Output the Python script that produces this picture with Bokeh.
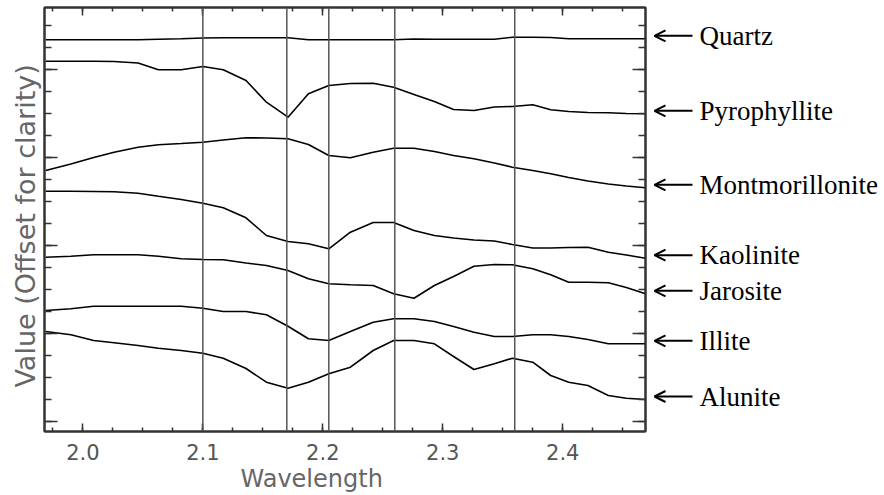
from bokeh.plotting import figure
from bokeh.layouts import row
from bokeh.models import (Range1d, FixedTicker, SingleIntervalTicker, LinearAxis, Span,
                          Label, Arrow, OpenHead, PrintfTickFormatter, ColumnDataSource, Title,
                          CustomJSTickFormatter)
from bokeh.embed import file_html
from bokeh.resources import INLINE

# ---------------- data ----------------
wavelength = [1.969, 1.990, 2.009, 2.026, 2.046, 2.063, 2.082, 2.100, 2.117, 2.136,
              2.153, 2.171, 2.188, 2.205, 2.223, 2.242, 2.259, 2.276, 2.293, 2.309,
              2.326, 2.343, 2.358, 2.375, 2.390, 2.405, 2.421, 2.438, 2.453, 2.469]

quartz = [391.7, 391.7, 391.7, 391.7, 391.7, 392.2, 392.7, 393.5, 393.7, 393.7,
          393.7, 393.7, 391.8, 391.7, 391.7, 391.7, 391.7, 392.5, 392.3, 392.3,
          392.3, 392.3, 394.3, 394.3, 394.0, 392.7, 392.7, 392.7, 392.7, 392.7]
pyrophyllite = [370.3, 370.3, 370.3, 370.0, 368.5, 361.7, 361.7, 365.0, 361.7, 351.0,
                329.3, 314.3, 337.7, 346.0, 348.0, 348.3, 344.3, 337.0, 330.0, 322.0,
                321.0, 324.5, 325.0, 326.7, 321.7, 320.0, 319.0, 318.7, 318.0, 317.7]
montmorillonite = [261.0, 267.5, 274.0, 279.3, 284.3, 286.7, 288.0, 289.3, 291.5, 293.7,
                   293.5, 292.7, 287.0, 276.0, 273.7, 279.3, 283.3, 283.3, 280.0, 276.0,
                   272.7, 268.5, 264.3, 261.0, 257.7, 254.0, 250.5, 247.5, 245.5, 243.7]
kaolinite = [240.3, 240.3, 240.0, 239.7, 238.3, 235.3, 232.0, 228.3, 223.7, 213.7,
             196.0, 190.0, 187.7, 182.7, 199.3, 209.0, 209.0, 201.0, 196.0, 193.5,
             191.5, 190.5, 187.0, 183.5, 183.5, 184.0, 184.3, 179.3, 176.5, 173.3]
jarosite = [174.3, 175.3, 176.7, 176.7, 176.7, 175.3, 172.7, 172.0, 171.7, 168.5,
            166.0, 161.0, 152.7, 147.7, 146.7, 146.0, 137.7, 133.3, 146.0, 155.0,
            165.3, 167.0, 166.7, 162.7, 156.7, 149.3, 149.3, 148.7, 144.0, 137.7]
illite = [121.0, 122.7, 125.3, 125.3, 125.3, 125.3, 125.3, 123.3, 120.0, 120.0,
          116.7, 105.3, 92.7, 91.0, 100.0, 109.3, 112.7, 112.7, 110.0, 105.0,
          99.3, 95.0, 95.0, 96.7, 96.7, 95.0, 92.0, 87.7, 87.7, 87.7]
alunite = [100.0, 96.7, 91.0, 88.7, 86.0, 83.3, 81.0, 78.3, 73.3, 63.0,
           49.3, 43.3, 49.3, 57.7, 64.3, 81.0, 91.0, 91.0, 87.7, 75.0,
           62.0, 67.7, 73.3, 69.3, 56.0, 49.3, 46.0, 36.0, 33.3, 32.0]

minerals = ["Quartz", "Pyrophyllite", "Montmorillonite", "Kaolinite",
            "Jarosite", "Illite", "Alunite"]
series = [quartz, pyrophyllite, montmorillonite, kaolinite, jarosite, illite, alunite]

feature_lines = [2.10, 2.17, 2.205, 2.26, 2.36]

# ---------------- layout constants (page pixels) ----------------
X0, X1 = 1.968, 2.469
FRAME_L, FRAME_R, FRAME_T, FRAME_B = 44, 645, 7, 431
H = 494
MAIN_W = 650
SIDE_W = 884 - MAIN_W
Y0, Y1 = 0, FRAME_B - FRAME_T


def px2x(px):
    return X0 + (px - FRAME_L) / (FRAME_R - FRAME_L) * (X1 - X0)


p = figure(width=MAIN_W, height=H, x_range=Range1d(X0, X1), y_range=Range1d(Y0, Y1),
           output_backend="svg", toolbar_location=None,
           min_border_left=FRAME_L, min_border_right=MAIN_W - FRAME_R,
           min_border_top=FRAME_T, min_border_bottom=H - FRAME_B)
p.grid.visible = False
p.outline_line_color = "#333333"
p.outline_line_width = 2
p.background_fill_color = "white"
p.border_fill_color = "white"

xticker = SingleIntervalTicker(interval=0.1, num_minor_ticks=4)
yticker = FixedTicker(ticks=[10, 98, 186, 274, 362],
                      minor_ticks=[10 + 22 * k for k in range(19)])


def style_axis(ax, major_in, minor_in, labels=False):
    ax.major_tick_in = major_in
    ax.major_tick_out = 0
    ax.minor_tick_in = minor_in
    ax.minor_tick_out = 0
    ax.major_tick_line_color = "#333333"
    ax.minor_tick_line_color = "#333333"
    ax.major_tick_line_width = 1.5
    ax.minor_tick_line_width = 1.5
    ax.axis_line_color = "#333333"
    ax.axis_line_width = 2
    if not labels:
        ax.formatter = CustomJSTickFormatter(code="return ''")
        ax.major_label_text_font_size = "0px"
        ax.major_label_standoff = 0


xb = p.xaxis[0]
xb.ticker = xticker
xb.formatter = PrintfTickFormatter(format="%.1f")
style_axis(xb, 8, 4, labels=True)
xb.major_label_text_font = "DejaVu Sans"
xb.major_label_text_font_size = "21px"
xb.major_label_text_color = "#555555"
xb.major_label_standoff = 12

yl = p.yaxis[0]
yl.ticker = yticker
style_axis(yl, 13, 7)

xt = LinearAxis(ticker=xticker)
style_axis(xt, 8, 4)
p.add_layout(xt, "above")

yr = LinearAxis(ticker=yticker)
style_axis(yr, 13, 7)
p.add_layout(yr, "right")

# axis titles
p.add_layout(Title(text="Wavelength", align="left", offset=240 - FRAME_L, standoff=0,
                   text_font="DejaVu Sans", text_font_size="24px", text_font_style="normal",
                   text_color="#666666"), "below")
p.add_layout(Title(text="Value (Offset for clarity)", align="left", offset=FRAME_B - 387,
                   standoff=7, text_font="DejaVu Sans", text_font_size="27px",
                   text_font_style="normal", text_color="#666666"), "left")

# feature wavelength lines
for w in feature_lines:
    p.add_layout(Span(location=w, dimension="height", line_color="#555555", line_width=1.5))

# spectra
for name, ys in zip(minerals, series):
    src = ColumnDataSource(dict(x=wavelength, y=ys))
    p.line("x", "y", source=src, line_color="black", line_width=1.6)

# ---------------- right-hand annotation panel ----------------
p2 = figure(width=SIDE_W, height=H, x_range=Range1d(px2x(MAIN_W), px2x(884)),
            y_range=Range1d(Y0, Y1), output_backend="svg", toolbar_location=None,
            x_axis_type=None, y_axis_type=None,
            min_border_left=0, min_border_right=0,
            min_border_top=FRAME_T, min_border_bottom=H - FRAME_B)
p2.grid.visible = False
p2.outline_line_color = None
p2.background_fill_color = "white"
p2.border_fill_color = "white"

for name, ys in zip(minerals, series):
    yv = ys[-1] + 3
    p2.add_layout(Arrow(x_start=px2x(692), y_start=yv, x_end=px2x(654), y_end=yv,
                        line_color="black", line_width=2,
                        end=OpenHead(size=11, line_width=2, line_color="black")))
    p2.add_layout(Label(x=px2x(699), y=yv, text=name, text_align="left",
                        text_baseline="middle", text_font="Liberation Serif",
                        text_font_size="27px", text_color="black"))

layout = row(p, p2)
open("out.html", "w").write(file_html(layout, INLINE))
